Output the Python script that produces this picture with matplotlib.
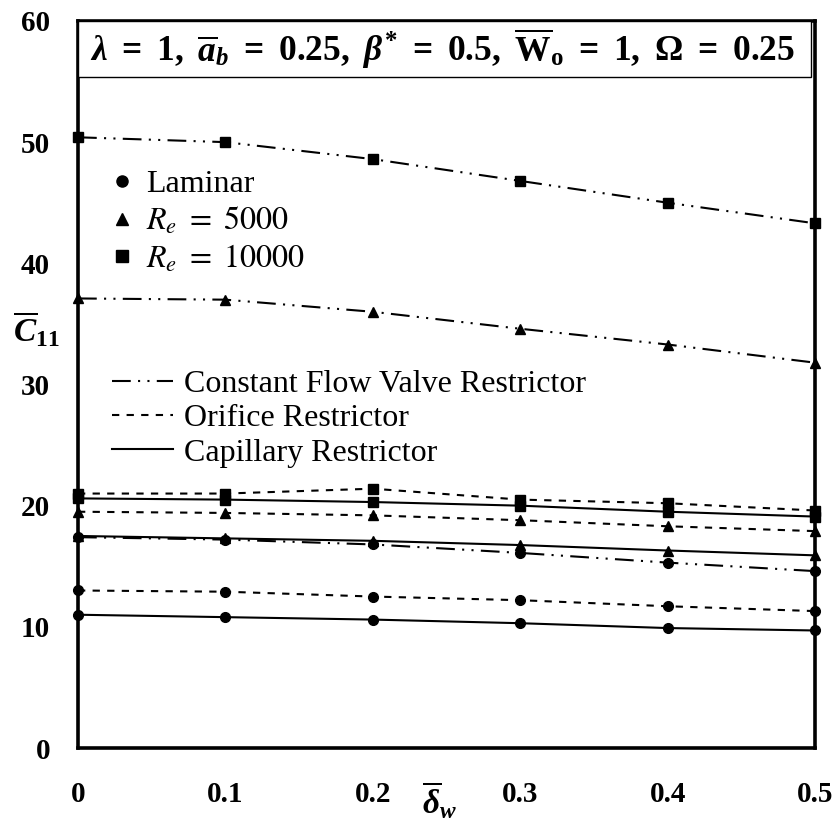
import matplotlib
matplotlib.use("Agg")
import matplotlib.pyplot as plt
from matplotlib.lines import Line2D
from matplotlib.patches import Rectangle
from matplotlib.font_manager import FontProperties

plt.rcParams['font.family'] = ['Liberation Serif', 'DejaVu Serif']
plt.rcParams['mathtext.fontset'] = 'custom'
plt.rcParams['mathtext.rm'] = 'Liberation Serif:bold'
plt.rcParams['mathtext.it'] = 'Liberation Serif:bold:italic'
plt.rcParams['mathtext.bf'] = 'Liberation Serif:bold'

# Dimensionless wall deformation
delta_w = [0.0, 0.1, 0.2, 0.3, 0.4, 0.5]

# Capillary restrictor
cap_laminar = [11.0, 10.8, 10.6, 10.3, 9.9, 9.7]
cap_re5000 = [17.5, 17.3, 17.1, 16.75, 16.3, 15.9]
cap_re10000 = [20.6, 20.5, 20.3, 20.0, 19.5, 19.1]

# Orifice restrictor
ori_laminar = [13.0, 12.9, 12.5, 12.2, 11.7, 11.3]
ori_re5000 = [19.5, 19.4, 19.2, 18.8, 18.3, 17.9]
ori_re10000 = [21.0, 21.0, 21.4, 20.5, 20.2, 19.6]

# Constant flow valve restrictor
cfv_laminar = [17.4, 17.2, 16.8, 16.1, 15.3, 14.6]
cfv_re5000 = [37.1, 37.0, 36.0, 34.6, 33.3, 31.8]
cfv_re10000 = [50.4, 50.0, 48.6, 46.8, 45.0, 43.3]

x_ticks = [0, 0.1, 0.2, 0.3, 0.4, 0.5]
x_tick_labels = ['0', '0.1', '0.2', '0.3', '0.4', '0.5']
y_ticks = [0, 10, 20, 30, 40, 50, 60]

flow_labels = ['Laminar', r'$R_e\ =\ 5000$', r'$R_e\ =\ 10000$']
restrictor_labels = ['Constant Flow Valve Restrictor', 'Orifice Restrictor',
                     'Capillary Restrictor']

fig = plt.figure(figsize=(8.36, 8.22), dpi=100)
ax = fig.add_axes([0.0933, 0.0900, 0.8816, 0.8845])

cfv_style = (0, (9.0, 3.5, 1.0, 3.5, 1.0, 3.5))
ori_style = (0, (3.5, 3.5))
solid_style = '-'

series = [
    (cap_laminar, solid_style, 'o'), (cap_re5000, solid_style, '^'),
    (cap_re10000, solid_style, 's'),
    (ori_laminar, ori_style, 'o'), (ori_re5000, ori_style, '^'),
    (ori_re10000, ori_style, 's'),
    (cfv_laminar, cfv_style, 'o'), (cfv_re5000, cfv_style, '^'),
    (cfv_re10000, cfv_style, 's'),
]
for values, ls, mk in series:
    ax.plot(delta_w, values, color='black', linestyle=ls, linewidth=1.5,
            marker=mk, markersize=7, markerfacecolor='black',
            markeredgecolor='black', clip_on=False, zorder=3)

ax.set_xlim(0, 0.5)
ax.set_ylim(0, 60)
ax.set_xticks(x_ticks)
ax.set_xticklabels(x_tick_labels)
ax.set_yticks(y_ticks)
ax.tick_params(axis='both', length=0, labelsize=21)
ax.tick_params(axis='x', pad=24)
ax.tick_params(axis='y', pad=20)
for lab in ax.get_xticklabels() + ax.get_yticklabels():
    lab.set_fontweight('bold')

for sp in ax.spines.values():
    sp.set_linewidth(2.6)

# Axis labels
ax.text(-0.056, 0.575, r'$\overline{C}_{\mathbf{11}}$', transform=ax.transAxes,
        ha='center', va='center', fontsize=24)
ax.text(0.2456, -0.072, r'$\overline{\delta}_{w}$',
        transform=ax.get_xaxis_transform(), ha='center', va='center',
        fontsize=24)

# Parameter box
ax.add_patch(Rectangle((0, 0.923), 0.9946, 0.077, transform=ax.transAxes,
                       facecolor='white', edgecolor='black', linewidth=1.0,
                       zorder=4, clip_on=False))
ax.text(0.494, 0.9615,
        r'$\lambda\ =\ 1,\ \overline{a}_{b}\ =\ 0.25,\ \beta^{*}\ =\ 0.5,\ '
        r'\overline{\mathrm{W}}_{\mathrm{o}}\ =\ 1,\ \mathrm{\Omega}\ =\ 0.25$',
        transform=ax.transAxes, ha='center', va='center', fontsize=25.5,
        zorder=5)

# Legend for flow regime markers
marker_handles = [
    Line2D([], [], color='black', linestyle='none', marker=m, markersize=8)
    for m in ['o', '^', 's']
]
prop_reg = FontProperties(family='Liberation Serif', size=23,
                          math_fontfamily='stix')
leg1 = ax.legend(marker_handles, flow_labels, loc='upper left',
                 bbox_to_anchor=(0.042, 0.795), frameon=False, prop=prop_reg,
                 handlelength=0.8, handletextpad=0.35, labelspacing=0.2,
                 borderpad=0, borderaxespad=0)
ax.add_artist(leg1)

# Legend for restrictor line styles
line_handles = [
    Line2D([], [], color='black', linestyle=ls, linewidth=1.5)
    for ls in [cfv_style, ori_style, solid_style]
]
ax.legend(line_handles, restrictor_labels, loc='upper left',
          bbox_to_anchor=(0.046, 0.52), frameon=False, prop=prop_reg,
          handlelength=1.9, handletextpad=0.35, labelspacing=0.15,
          borderpad=0, borderaxespad=0)

fig.savefig('out.png', dpi=100)
